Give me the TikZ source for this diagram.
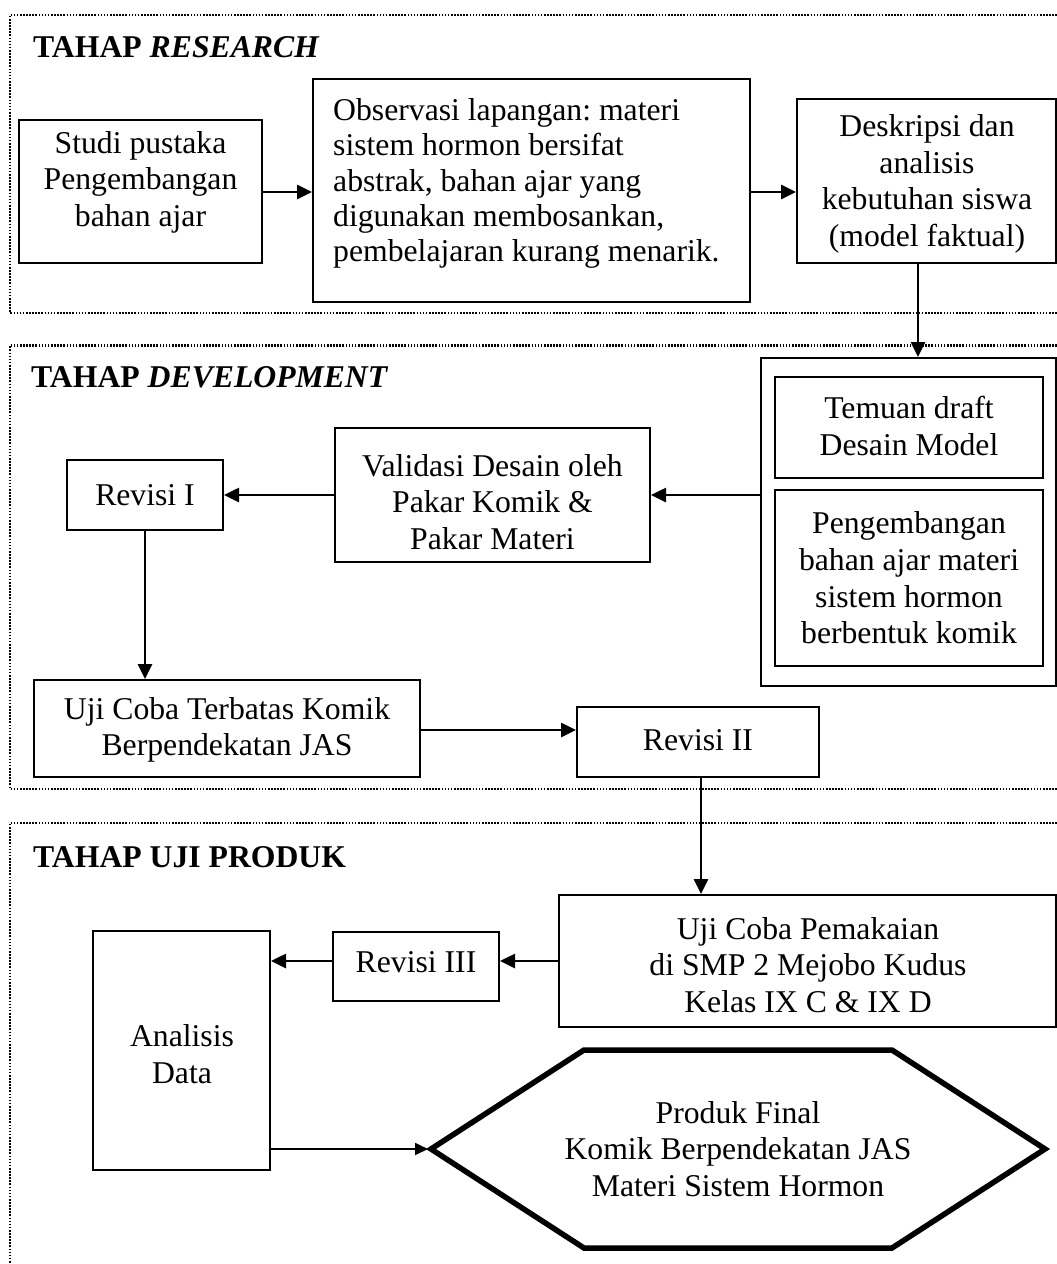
\documentclass[tikz,border=0pt]{standalone}
\usepackage{fontspec}
\setmainfont{Liberation Serif}
\usetikzlibrary{arrows.meta}
\frenchspacing
\begin{document}
\begin{tikzpicture}[x=1pt,y=-1pt,
  box/.style={draw,line width=2pt,inner sep=0pt},
  txt/.style={align=center,inner sep=0pt,font=\fontsize{31.7}{36.6}\selectfont},
  ltxt/.style={align=left,inner sep=0pt,font=\fontsize{31.7}{35.4}\selectfont},
  ttl/.style={inner sep=0pt,font=\fontsize{31.7}{36.6}\selectfont\bfseries},
  arr/.style={line width=2.6pt,-{Triangle[length=15pt,width=14pt]}},
  arrthin/.style={line width=1.8pt,-{Triangle[length=13pt,width=12pt]}},
  frame/.style={line width=2.4pt,dash pattern=on 1.6pt off 1.5pt}]
\useasboundingbox (0,0) rectangle (1057,1264);
% frames
\draw[frame] (1057,15) -- (10,15) -- (10,313) -- (1057,313);
\draw[frame] (1057,345.5) -- (10,345.5) -- (10,789) -- (1057,789);
\draw[frame] (1057,823) -- (10,823) -- (10,1264);
% titles
\node[ttl,anchor=base west] (t1) at (33,57) {TAHAP \textit{RESEARCH}};
\node[ttl,anchor=base west] (t2) at (31,387) {TAHAP \textit{DEVELOPMENT}};
\node[ttl,anchor=base west] (t3) at (33,867) {TAHAP UJI PRODUK};
% research
\node[box,minimum width=243pt,minimum height=143pt] (A) at (140.5,191.5) {};
\node[txt] (At) at (140.5,182) {Studi pustaka\\Pengembangan\\bahan ajar};
\node[box,minimum width=437pt,minimum height=223pt] (B) at (531.5,190.5) {};
\node[ltxt,anchor=west] (Bt) at (333,183.5) {Observasi lapangan: materi\\sistem hormon bersifat\\abstrak, bahan ajar yang\\digunakan membosankan,\\pembelajaran kurang menarik.};
\node[box,minimum width=259pt,minimum height=164pt] (C) at (926.5,181) {};
\node[txt] (Ct) at (927,184) {Deskripsi dan\\analisis\\kebutuhan siswa\\(model faktual)};
% development
\node[box,minimum width=295pt,minimum height=328pt] (Dout) at (908.5,522) {};
\node[box,minimum width=268pt,minimum height=101pt] (D1) at (909,427.5) {};
\node[txt] (D1t) at (909,426) {Temuan draft\\Desain Model};
\node[box,minimum width=268pt,minimum height=176pt] (D2) at (909,578) {};
\node[txt] (D2t) at (909,578) {Pengembangan\\bahan ajar materi\\sistem hormon\\berbentuk komik};
\node[box,minimum width=315pt,minimum height=134pt] (V) at (492.5,495) {};
\node[txt] (Vt) at (492.5,502) {Validasi Desain oleh\\Pakar Komik \&\\Pakar Materi};
\node[box,minimum width=156pt,minimum height=70pt] (R1) at (145,495) {};
\node[txt] (R1t) at (145,495) {Revisi I};
\node[box,minimum width=386pt,minimum height=97pt] (UT) at (227,728.5) {};
\node[txt] (UTt) at (227,730) {Uji Coba Terbatas Komik\\Berpendekatan JAS};
\node[box,minimum width=242pt,minimum height=70pt] (R2) at (698,742) {};
\node[txt] (R2t) at (698,740) {Revisi II};
% uji produk
\node[box,minimum width=497pt,minimum height=132pt] (UP) at (807.5,961) {};
\node[txt] (UPt) at (808,965) {Uji Coba Pemakaian\\di SMP 2 Mejobo Kudus\\Kelas IX C \& IX D};
\node[box,minimum width=166pt,minimum height=69pt] (R3) at (416,966.5) {};
\node[txt] (R3t) at (416,962) {Revisi III};
\node[box,minimum width=177pt,minimum height=239pt] (AD) at (181.5,1050.5) {};
\node[txt] (ADt) at (182,1054) {Analisis\\Data};
\draw[line width=5.5pt,line join=miter] (431,1149) -- (584,1050) -- (892,1050) -- (1045,1149) -- (892,1248) -- (584,1248) -- cycle;
\node[txt] (hex) at (738,1149) {Produk Final\\Komik Berpendekatan JAS\\Materi Sistem Hormon};
\coordinate (hexW) at (428,1149);
% connectors
\draw[arr] (A.east |- 0,192) -- (B.west |- 0,192);
\draw[arr] (B.east |- 0,192) -- (C.west |- 0,192);
\draw[arr] ([xshift=-8.5pt]C.south) -- ([xshift=-8.5pt]C.south |- Dout.north);
\draw[arr] (Dout.west |- V.east) -- (V.east);
\draw[arr] (V.west) -- (R1.east);
\draw[arr] (R1.south) -- (R1.south |- UT.north);
\draw[arr] (UT.east |- 0,730) -- (R2.west |- 0,730);
\draw[arr] ([xshift=3pt]R2.south) -- ([xshift=3pt]R2.south |- UP.north);
\draw[arr] (UP.west) -- (UP.west -| R3.east);
\draw[arr] (R3.west |- 0,961) -- (AD.east |- 0,961);
\draw[arrthin] (AD.east |- hexW) -- (hexW);
\end{tikzpicture}
\end{document}
